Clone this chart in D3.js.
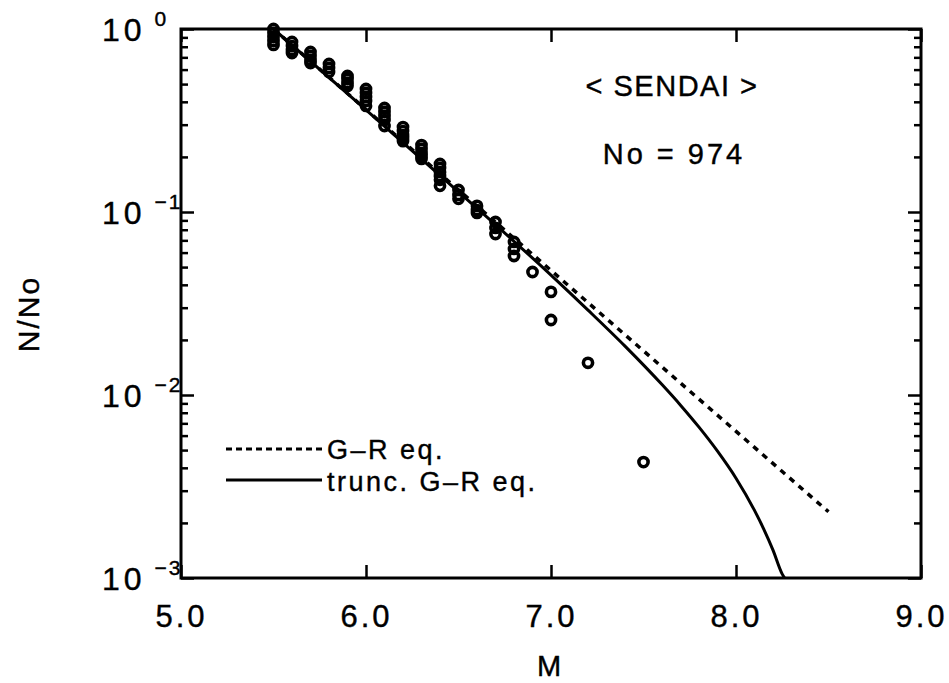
<!DOCTYPE html>
<html>
<head>
<meta charset="utf-8">
<script src="https://cdn.jsdelivr.net/npm/d3@7"></script>
<style>
  html, body { margin: 0; padding: 0; background: #fff; }
  svg { display: block; }
  text { font-family: "Liberation Sans", Arial, Helvetica, sans-serif; fill: #000; stroke: #000; stroke-width: 0.4; }
</style>
</head>
<body>
<svg id="chart" width="949" height="683"></svg>
<script>
// ---- Data ----
// Observed cumulative ratio N/No grouped by magnitude M (several catalogue points per magnitude)
const obsMagnitudes = [5.5, 5.6, 5.7, 5.8, 5.9, 6.0, 6.1, 6.2, 6.3, 6.4, 6.5, 6.6, 6.7, 6.8, 6.9, 7.0, 7.2, 7.5];
const obsRatios = [
  [1.000, 0.951, 0.904, 0.860, 0.818],
  [0.849, 0.807, 0.768, 0.739],
  [0.749, 0.712, 0.677, 0.652],
  [0.644, 0.612, 0.582],
  [0.554, 0.533, 0.507, 0.489],
  [0.470, 0.447, 0.425, 0.404, 0.380],
  [0.370, 0.352, 0.335, 0.318, 0.295],
  [0.291, 0.277, 0.263, 0.254, 0.244],
  [0.232, 0.221, 0.210, 0.202, 0.195],
  [0.183, 0.174, 0.165, 0.157, 0.150, 0.139],
  [0.132, 0.124, 0.118],
  [0.108, 0.1025, 0.0988],
  [0.0882, 0.0818, 0.0758],
  [0.0686, 0.0628, 0.0575],
  [0.0470],
  [0.0366, 0.0257],
  [0.0150],
  [0.0043]
];
// G-R equation (dashed straight line)
const grM     = [5.5, 8.5];
const grRatio = [1.0, 0.0023];
// Truncated G-R equation (solid curve)
const truncM     = [5.5, 6.0, 6.5, 7.0, 7.2, 7.4, 7.6, 7.7, 7.8, 7.9, 8.0, 8.1, 8.15, 8.2, 8.25, 8.28];
const truncRatio = [1.0, 0.361, 0.129, 0.0452, 0.0291, 0.0185, 0.0114, 0.0088, 0.00667, 0.00493, 0.00351, 0.00234, 0.00185, 0.00142, 0.00105, 0.00095];
// Axis ticks
const xTicks = [5, 6, 7, 8, 9];
const yDecades = [1, 0.1, 0.01, 0.001];
const yExponents = ["0", "\u22121", "\u22122", "\u22123"];
const legendLabels = ["G\u2013R eq.", "trunc. G\u2013R eq."];
const titleText = "<  SENDAI  >";
const countText = "No  =  974";

// ---- Layout ----
const svg = d3.select("#chart");
const L = 181, R = 921, T = 29, B = 578;

const x = d3.scaleLinear().domain([5, 9]).range([L, R]);
const y = d3.scaleLog().domain([0.001, 1]).range([B, T]);

const minorY = [];
[0.001, 0.01, 0.1].forEach(d => { for (let k = 2; k <= 9; k++) minorY.push(d * k); });

const axisStyle = g => {
  g.select(".domain").remove();
  g.selectAll(".tick line").attr("stroke", "#000").attr("stroke-width", 2.5);
};

// Y minor ticks (left/right, inward)
svg.append("g").attr("transform", `translate(${L},0)`)
  .call(d3.axisLeft(y).tickValues(minorY).tickSize(-7).tickFormat(""))
  .call(axisStyle);
svg.append("g").attr("transform", `translate(${R},0)`)
  .call(d3.axisRight(y).tickValues(minorY).tickSize(-7).tickFormat(""))
  .call(axisStyle);
// Y major ticks
svg.append("g").attr("transform", `translate(${R},0)`)
  .call(d3.axisRight(y).tickValues(yDecades).tickSize(-13).tickFormat(""))
  .call(axisStyle);
const yAxisL = svg.append("g").attr("transform", `translate(${L},0)`)
  .call(d3.axisLeft(y).tickValues(yDecades).tickSize(-13).tickPadding(0))
  .call(axisStyle);
yAxisL.selectAll(".tick text").each(function(d, i) {
  const t = d3.select(this);
  t.text(null)
   .attr("x", -79).attr("dy", "0.36em")
   .attr("text-anchor", "start")
   .attr("font-size", 32).attr("letter-spacing", 4);
  t.append("tspan").text("10");
  t.append("tspan").text(yExponents[i])
   .attr("dx", 9).attr("dy", -15).attr("font-size", 21).attr("letter-spacing", 2);
});

// X ticks bottom and top
const xAxisB = svg.append("g").attr("transform", `translate(0,${B})`)
  .call(d3.axisBottom(x).tickValues(xTicks).tickSize(-13).tickPadding(27).tickFormat(d3.format(".1f")))
  .call(axisStyle);
xAxisB.selectAll(".tick text").attr("font-size", 31).attr("letter-spacing", 3);
svg.append("g").attr("transform", `translate(0,${T})`)
  .call(d3.axisTop(x).tickValues(xTicks).tickSize(-13).tickFormat(""))
  .call(axisStyle);

// Frame
svg.append("rect").attr("x", L).attr("y", T).attr("width", R - L).attr("height", B - T)
  .attr("fill", "none").attr("stroke", "#000").attr("stroke-width", 3);

// Clip
svg.append("clipPath").attr("id", "plotclip")
  .append("rect").attr("x", L).attr("y", T - 6).attr("width", R - L).attr("height", B - T + 6);
const plot = svg.append("g").attr("clip-path", "url(#plotclip)");

const line = d3.line().x(d => x(d[0])).y(d => y(d[1])).curve(d3.curveMonotoneX);

plot.append("path").datum(grM.map((m, i) => [m, grRatio[i]]))
  .attr("d", line).attr("fill", "none").attr("stroke", "#000")
  .attr("stroke-width", 3.5).attr("stroke-dasharray", "6,6");
plot.append("path").datum(truncM.map((m, i) => [m, truncRatio[i]]))
  .attr("d", line).attr("fill", "none").attr("stroke", "#000").attr("stroke-width", 3);

// Observations
const pts = [];
obsMagnitudes.forEach((m, i) => obsRatios[i].forEach(v => pts.push([m, v])));
svg.append("g").selectAll("circle").data(pts).join("circle")
  .attr("cx", d => x(d[0])).attr("cy", d => y(d[1])).attr("r", 4.6)
  .attr("fill", "none").attr("stroke", "#000").attr("stroke-width", 3.6);

// Annotations
svg.append("text").attr("x", 672).attr("y", 96).attr("text-anchor", "middle")
  .attr("font-size", 29).attr("letter-spacing", 1.5).text(titleText);
svg.append("text").attr("x", 674).attr("y", 164).attr("text-anchor", "middle")
  .attr("font-size", 29).attr("letter-spacing", 3).text(countText);

// Legend
const lg = svg.append("g");
lg.append("line").attr("x1", 226).attr("x2", 322).attr("y1", 449).attr("y2", 449)
  .attr("stroke", "#000").attr("stroke-width", 3).attr("stroke-dasharray", "6,4");
lg.append("line").attr("x1", 226).attr("x2", 322).attr("y1", 480).attr("y2", 480)
  .attr("stroke", "#000").attr("stroke-width", 3);
lg.append("text").attr("x", 327).attr("y", 459).attr("font-size", 27).attr("letter-spacing", 2.5)
  .style("white-space", "pre").text(legendLabels[0]);
lg.append("text").attr("x", 327).attr("y", 491).attr("font-size", 27).attr("letter-spacing", 2.5)
  .style("white-space", "pre").text(legendLabels[1]);

// Axis titles
svg.append("text").attr("x", 549).attr("y", 676).attr("text-anchor", "middle")
  .attr("font-size", 29).text("M");
svg.append("text").attr("transform", "translate(39,314) rotate(-90)").attr("text-anchor", "middle")
  .attr("font-size", 30).attr("letter-spacing", 2).text("N/No");
</script>
</body>
</html>
